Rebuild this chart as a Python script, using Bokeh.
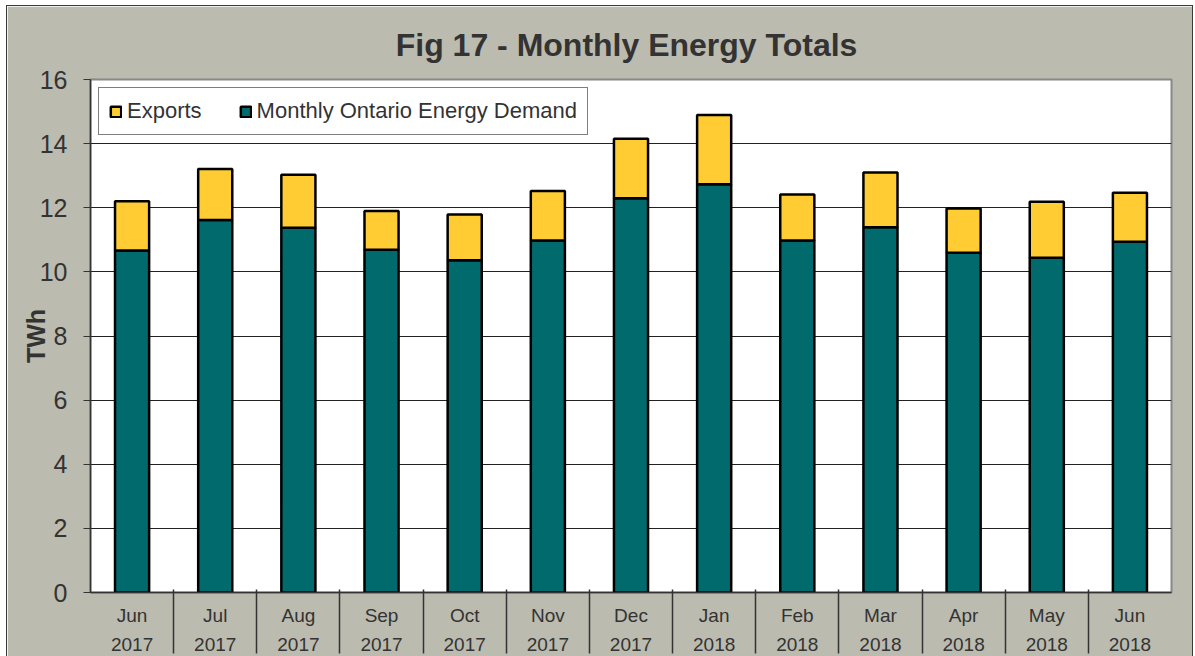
from bokeh.plotting import figure
from bokeh.models import (FactorRange, Range1d, CategoricalAxis, FixedTicker, ColumnDataSource,
                          Legend, LegendItem, CustomJSTickFormatter)
from bokeh.embed import file_html
from bokeh.resources import INLINE

# ---- data ----
months = ["Jun", "Jul", "Aug", "Sep", "Oct", "Nov", "Dec", "Jan", "Feb", "Mar", "Apr", "May", "Jun"]
years = ["2017", "2017", "2017", "2017", "2017", "2017", "2017", "2018", "2018", "2018", "2018", "2018", "2018"]
demand = [10.67, 11.62, 11.38, 10.69, 10.36, 10.98, 12.30, 12.73, 10.98, 11.39, 10.60, 10.44, 10.94]
exports = [1.53, 1.59, 1.65, 1.21, 1.43, 1.54, 1.85, 2.16, 1.43, 1.71, 1.38, 1.75, 1.53]
y_ticks = [0, 2, 4, 6, 8, 10, 12, 14, 16]

FONT = "Liberation Sans"
TXT = "#333333"
BG = "#BBBBB0"
TEAL = "#006A6D"
YELLOW = "#FFCC33"

factors = [f"{m} {y}" for m, y in zip(months, years)]
src = ColumnDataSource(dict(factor=factors, demand=demand, exports=exports))

p = figure(x_range=FactorRange(*factors), y_range=Range1d(0, 16),
           width=1185, height=650, output_backend="svg", toolbar_location=None,
           x_axis_location=None)
p.styles = {"margin-left": "7px", "margin-top": "6px", "outline": "1px solid #3a3a3a"}
p.min_border_left = 83
p.min_border_right = 21
p.min_border_top = 73
p.min_border_bottom = 64
p.background_fill_color = "white"
p.border_fill_color = BG
p.outline_line_color = "#888888"
p.outline_line_width = 2

# title
p.title.text = "Fig  17 - Monthly Energy Totals"
p.title.text_font = FONT
p.title.text_font_size = "32px"
p.title.text_font_style = "bold"
p.title.text_color = TXT
p.title.align = "center"
p.title.standoff = 33

# bars
rs = p.vbar_stack(["demand", "exports"], x="factor", width=0.41, source=src,
                  color=[TEAL, YELLOW], line_color="black", line_width=2.5)
r_dem, r_exp = rs

# y axis
yax = p.yaxis[0]
yax.ticker = FixedTicker(ticks=y_ticks)
yax.major_tick_out = 7
yax.major_tick_in = 0
yax.minor_tick_line_color = None
yax.major_tick_line_color = TXT
yax.axis_line_color = TXT
yax.axis_line_width = 1.5
yax.major_label_standoff = 16
yax.major_label_text_font = FONT
yax.major_label_text_font_size = "25px"
yax.major_label_text_color = TXT
yax.axis_label = "TWh"
yax.axis_label_text_font = FONT
yax.axis_label_text_font_size = "25px"
yax.axis_label_text_font_style = "bold"
yax.axis_label_text_color = TXT
yax.axis_label_standoff = -13

p.ygrid.ticker = FixedTicker(ticks=y_ticks)
p.ygrid.grid_line_color = "#222222"
p.ygrid.grid_line_width = 1
p.xgrid.grid_line_color = None

# month row
month_axis = CategoricalAxis(
    formatter=CustomJSTickFormatter(code="return tick.split(' ')[0];"),
    major_tick_in=0, major_tick_out=0, major_tick_line_color=None,
    axis_line_color=TXT, axis_line_width=1.5, minor_tick_line_color=None,
    major_label_standoff=12, major_label_text_font=FONT,
    major_label_text_font_size="19px", major_label_text_color=TXT)
p.add_layout(month_axis, "below")

# year row
year_axis = CategoricalAxis(
    formatter=CustomJSTickFormatter(code="return tick.split(' ')[1];"),
    major_tick_in=0, major_tick_out=0, major_tick_line_color=None,
    axis_line_color=None, minor_tick_line_color=None,
    major_label_standoff=9, major_label_text_font=FONT,
    major_label_text_font_size="19px", major_label_text_color=TXT)
p.add_layout(year_axis, "below")

# separator lines between categories, using a helper factor range whose
# factor centres fall on the category boundaries
bounds = [f"b{i}" for i in range(len(factors) + 1)]
p.extra_x_ranges = {"sep": FactorRange(*bounds, range_padding=-0.5, range_padding_units="absolute")}
sep = CategoricalAxis(x_range_name="sep",
                      major_tick_in=64, major_tick_out=0, major_tick_line_color=TXT,
                      major_tick_line_width=1.5,
                      axis_line_color=None, minor_tick_line_color=None,
                      major_label_text_font_size="0px", major_label_standoff=0,
                      major_label_text_color=None)
p.add_layout(sep, "below")

# legend
legend = Legend(items=[LegendItem(label="Exports", renderers=[r_exp]),
                       LegendItem(label="Monthly Ontario Energy Demand", renderers=[r_dem])],
                orientation="horizontal", location="top_left", margin=8, padding=10,
                spacing=37, label_standoff=5, glyph_width=13, glyph_height=13,
                label_text_font=FONT, label_text_font_size="22px", label_text_color=TXT,
                border_line_color="black", border_line_width=1,
                background_fill_color="white", background_fill_alpha=1.0)
p.add_layout(legend)

open("out.html", "w").write(file_html(p, INLINE))
